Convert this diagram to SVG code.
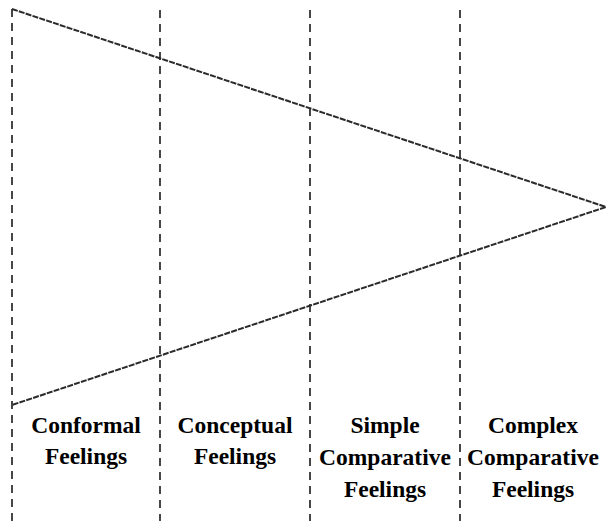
<svg xmlns="http://www.w3.org/2000/svg" width="608" height="521" viewBox="0 0 608 521">
<style>
.div{stroke:#333;stroke-width:1.8;stroke-dasharray:8 6;fill:none}
.tri{stroke:#2a2a2a;stroke-width:2;stroke-dasharray:6 1.2;fill:none}
.lbl{font-family:'Liberation Serif','Times New Roman',serif;font-weight:bold;font-size:23.5px;fill:#000;text-anchor:middle}
</style>
<rect width="608" height="521" fill="#fff"/>
<g id="connectors">
<line class="div" x1="12" y1="9" x2="12" y2="521"/>
<line class="div" x1="160" y1="10" x2="160" y2="521"/>
<line class="div" x1="310" y1="10" x2="310" y2="521"/>
<line class="div" x1="460" y1="10" x2="460" y2="521"/>
<polyline class="tri" points="12,9 606,207 12,405"/>
</g>
<g id="conformal"><text class="lbl" x="86" y="433">Conformal</text><text class="lbl" x="86" y="464">Feelings</text></g>
<g id="conceptual"><text class="lbl" x="235" y="433">Conceptual</text><text class="lbl" x="235" y="464">Feelings</text></g>
<g id="simple"><text class="lbl" x="385" y="433">Simple</text><text class="lbl" x="385" y="465">Comparative</text><text class="lbl" x="385" y="497">Feelings</text></g>
<g id="complex"><text class="lbl" x="533" y="433">Complex</text><text class="lbl" x="533" y="465">Comparative</text><text class="lbl" x="533" y="497">Feelings</text></g>
</svg>
